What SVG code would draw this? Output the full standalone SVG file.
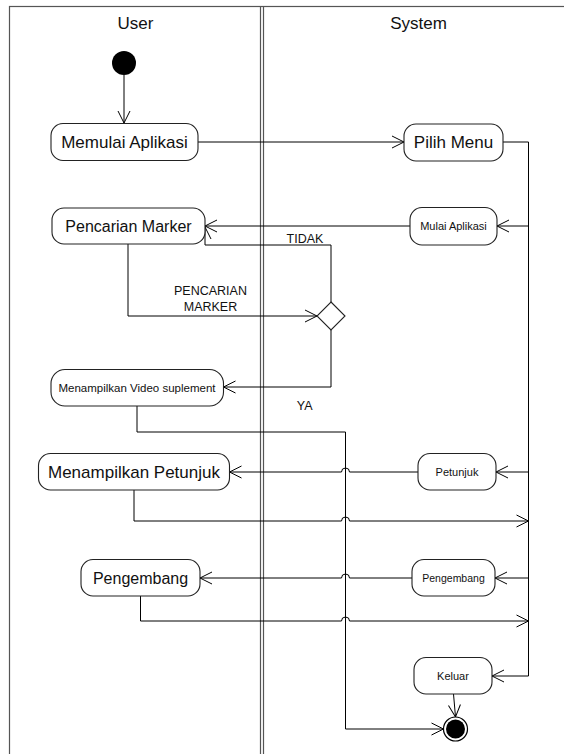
<svg xmlns="http://www.w3.org/2000/svg" width="564" height="754" viewBox="0 0 564 754">
<defs>
<marker id="arr" markerUnits="userSpaceOnUse" markerWidth="14" markerHeight="14" refX="12" refY="6" orient="auto" overflow="visible">
<path d="M0,0 L12,6 L0,12" fill="none" stroke="#000" stroke-width="1"/>
</marker>
</defs>
<style>
.lane{fill:none;stroke:#555;stroke-width:1.2}
.node{fill:#fff;stroke:#222;stroke-width:1.1}
.c{fill:none;stroke:#000;stroke-width:1}
.a{marker-end:url(#arr)}
text{font-family:"Liberation Sans",Arial,sans-serif;fill:#111;text-anchor:middle}
.hdr{font-size:17px}
.lbl{font-size:12.5px}
</style>
<rect width="564" height="754" fill="#fff"/>
<g id="lanes">
<rect class="lane" x="9.5" y="6.5" width="580" height="760"/>
<line class="lane" x1="260.5" y1="6.5" x2="260.5" y2="760"/>
<line class="lane" x1="263.5" y1="6.5" x2="263.5" y2="760"/>
<text class="hdr" x="135.5" y="29">User</text>
<text class="hdr" x="418.5" y="29">System</text>
</g>
<g id="connectors">
<path class="c a" d="M124,75 V123"/>
<path class="c a" d="M198,142 H404"/>
<path class="c" d="M503,142 H528.5 V676"/>
<path class="c a" d="M528.5,226 H497"/>
<path class="c a" d="M410,226 H205"/>
<path class="c a" d="M331,302 V245 H205 V227"/>
<path class="c a" d="M128,244 V316 H317"/>
<path class="c a" d="M331,330 V387 H223.5"/>
<path class="c a" d="M137,406 V432 H345.5 V729 H443.5"/>
<path class="c a" d="M528.5,472 H496"/>
<path class="c a" d="M418,472 H349.5 A4,4 0 0 0 341.5,472 H229.5"/>
<path class="c a" d="M134,490 V521 H341.5 A4,4 0 0 1 349.5,521 H528.5"/>
<path class="c a" d="M528.5,578 H495"/>
<path class="c a" d="M412,578 H349.5 A4,4 0 0 0 341.5,578 H200"/>
<path class="c a" d="M140.5,596 V621 H341.5 A4,4 0 0 1 349.5,621 H528.5"/>
<path class="c a" d="M528.5,676 H492"/>
<path class="c a" d="M453.5,694 L455.5,717"/>
<text class="lbl" x="305" y="242.5">TIDAK</text>
<text class="lbl" x="210.5" y="295">PENCARIAN</text>
<text class="lbl" x="210.5" y="310.5">MARKER</text>
<text class="lbl" x="304.7" y="410">YA</text>
</g>
<g id="start">
<circle cx="124" cy="63" r="12" fill="#000"/>
</g>
<g id="memulai-aplikasi">
<rect class="node" x="51" y="123.5" width="147" height="37" rx="12"/>
<text x="124.5" y="148" style="font-size:17px">Memulai Aplikasi</text>
</g>
<g id="pilih-menu">
<rect class="node" x="404" y="124" width="99" height="37" rx="12"/>
<text x="453.5" y="148" style="font-size:17px">Pilih Menu</text>
</g>
<g id="mulai-aplikasi">
<rect class="node" x="410" y="207.5" width="87" height="37.5" rx="12"/>
<text x="453.5" y="230" style="font-size:11px">Mulai Aplikasi</text>
</g>
<g id="pencarian-marker">
<rect class="node" x="52" y="208" width="153" height="36" rx="12"/>
<text x="128.5" y="231.5" style="font-size:16px">Pencarian Marker</text>
</g>
<g id="decision">
<path class="node" d="M331,302 L345,316 L331,330 L317,316 Z"/>
</g>
<g id="menampilkan-video">
<rect class="node" x="51" y="369.5" width="172.5" height="36.5" rx="14"/>
<text x="137" y="391.5" style="font-size:11.5px">Menampilkan Video suplement</text>
</g>
<g id="menampilkan-petunjuk">
<rect class="node" x="38.5" y="453.5" width="191" height="36.5" rx="12"/>
<text x="134" y="478" style="font-size:17px">Menampilkan Petunjuk</text>
</g>
<g id="petunjuk">
<rect class="node" x="418" y="453.5" width="78" height="36.5" rx="12"/>
<text x="457" y="476" style="font-size:11px">Petunjuk</text>
</g>
<g id="pengembang">
<rect class="node" x="81" y="559.5" width="119" height="36.5" rx="12"/>
<text x="140.5" y="583.5" style="font-size:16px">Pengembang</text>
</g>
<g id="pengembang-sys">
<rect class="node" x="412" y="559.5" width="83" height="36.5" rx="12"/>
<text x="453.5" y="581.5" style="font-size:10.5px">Pengembang</text>
</g>
<g id="keluar">
<rect class="node" x="414" y="657.5" width="78" height="36.5" rx="12"/>
<text x="453" y="680" style="font-size:11px">Keluar</text>
</g>
<g id="end">
<circle cx="455.5" cy="729" r="12" fill="#fff" stroke="#000" stroke-width="1.2"/>
<circle cx="455.5" cy="729" r="9.5" fill="#000"/>
</g>
</svg>
